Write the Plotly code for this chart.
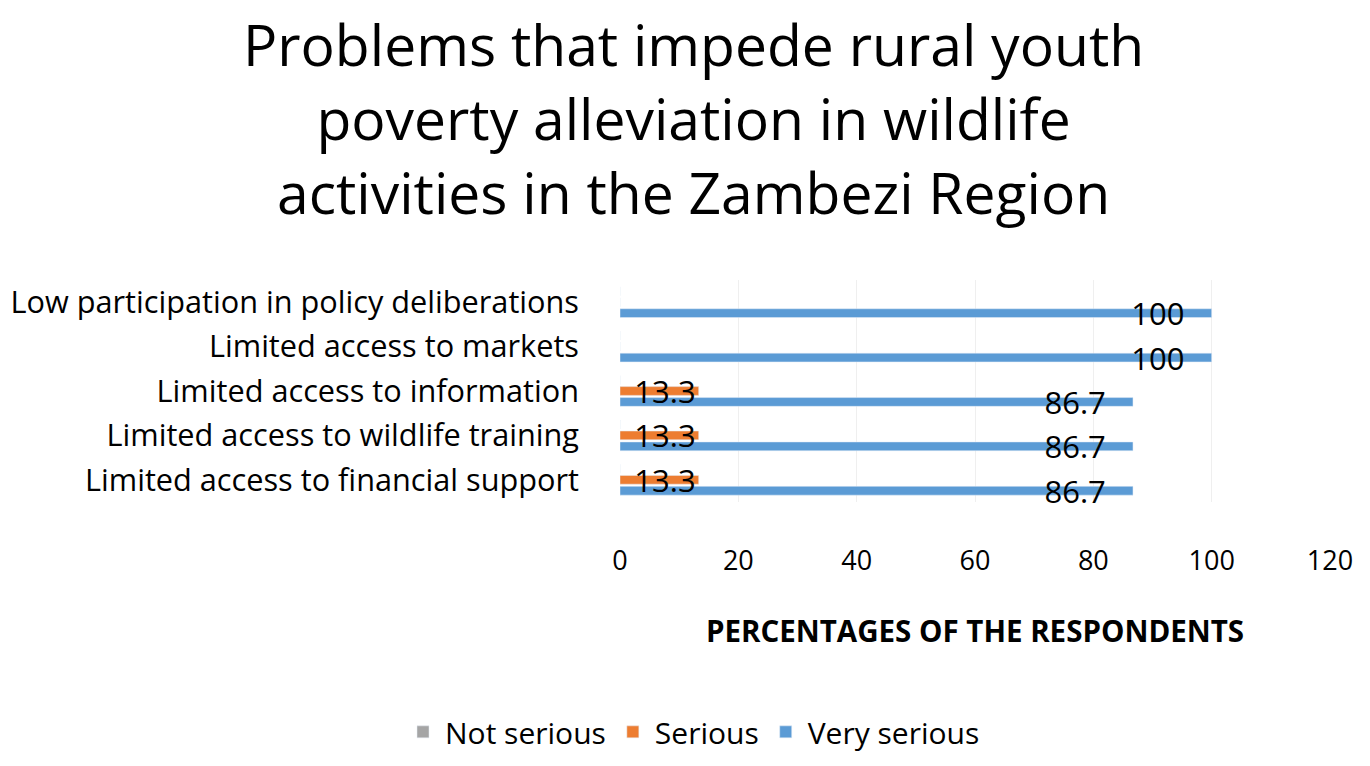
import plotly.graph_objects as go

# categories listed bottom -> top, as in the chart
problems = [
    "Limited access to financial support",
    "Limited access to wildlife training",
    "Limited access to information",
    "Limited access to markets",
    "Low participation in policy deliberations",
]
not_serious = [0, 0, 0, 0, 0]
serious = [13.3, 13.3, 13.3, 0, 0]
very_serious = [86.7, 86.7, 86.7, 100, 100]

x_ticks = [0, 20, 40, 60, 80, 100, 120]

title_text = ("Problems that impede rural youth<br>poverty alleviation in wildlife<br>"
              "activities in the Zambezi Region")

FONT = "Open Sans"

# plot area in page pixels
L, R, T, B = 612, 48, 272, 272
W, H = 1370, 766
PH = H - T - B
# page centre expressed in paper coordinates (for title + legend)
page_mid = (W / 2 - L) / (W - L - R)


def labels(values, pad=0):
    # pad = trailing no-break spaces so the label sits a bit in from the bar end
    return [f"{v:g}" + "\u00a0" * pad if v > 0 else "" for v in values]


fig = go.Figure()

# plotly stacks grouped horizontal bars bottom -> top in trace order
fig.add_trace(go.Bar(y=problems, x=very_serious, name="Very serious", orientation='h',
                     marker_color='#5B9BD5', text=labels(very_serious, pad=3)))
fig.add_trace(go.Bar(y=problems, x=serious, name="Serious", orientation='h',
                     marker_color='#ED7D31', text=labels(serious)))
fig.add_trace(go.Bar(y=problems, x=not_serious, name="Not serious", orientation='h',
                     marker_color='#A5A5A5', text=labels(not_serious)))

fig.update_traces(textposition='inside', insidetextanchor='end', constraintext='none',
                  textfont=dict(family=FONT, size=31, color='#000000'),
                  cliponaxis=False)

fig.add_annotation(
    text=title_text,
    xref='paper', yref='paper',
    x=page_mid, xanchor='center',
    y=1 + (T - 110) / PH, yanchor='middle',
    showarrow=False, align='center', borderpad=0,
    font=dict(family=FONT, size=57, color='#000000'),
)

fig.update_layout(
    width=W,
    height=H,
    paper_bgcolor='#ffffff',
    plot_bgcolor='#ffffff',
    font=dict(family=FONT, color='#000000'),
    barmode='group',
    bargap=0.26,
    bargroupgap=0.2,
    margin=dict(l=L, r=R, t=T, b=B, autoexpand=False),
    xaxis=dict(
        range=[0, 120],
        tickmode='array',
        tickvals=x_ticks,
        tickfont=dict(size=27),
        ticklabelstandoff=40,
        showgrid=True,
        gridcolor='#EFEFEF',
        zeroline=False,
        showline=False,
        automargin=False,
        title=dict(text="<b>PERCENTAGES OF THE RESPONDENTS</b>",
                   font=dict(size=29.5), standoff=44),
    ),
    yaxis=dict(
        tickfont=dict(size=30.7),
        ticklabelstandoff=40,
        showgrid=False,
        zeroline=False,
        showline=False,
        automargin=False,
    ),
    legend=dict(
        orientation='h',
        traceorder='reversed',
        x=page_mid, xanchor='center',
        yref='container', y=0.055, yanchor='middle',
        itemwidth=34,
        font=dict(size=30),
    ),
)

fig.write_html("out.html")
